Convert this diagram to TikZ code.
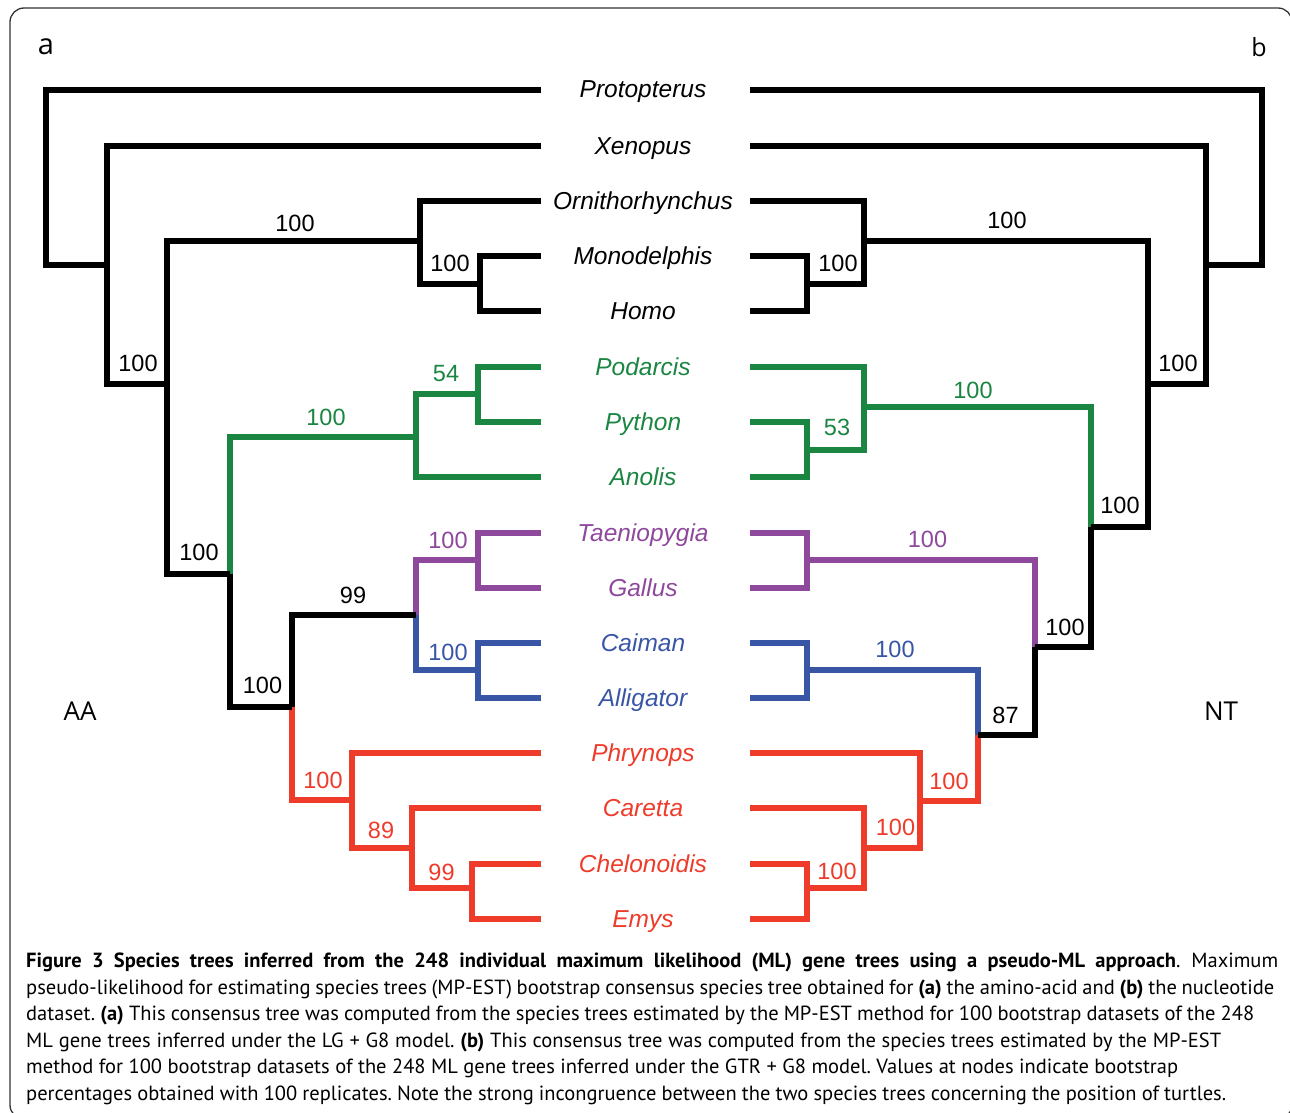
\documentclass[tikz,border=0pt]{standalone}
\usepackage{fontspec}
\setmainfont{Liberation Sans}
\newfontfamily\capfont{PT Sans}
\newfontfamily\labfont{Open Sans}
\definecolor{tgreen}{HTML}{1B8542}
\definecolor{tpurple}{HTML}{8E489C}
\definecolor{tblue}{HTML}{3956A6}
\definecolor{tred}{HTML}{EE3B2A}
\frenchspacing
\begin{document}
\begin{tikzpicture}[x=1pt,y=-1pt,
  br/.style={line width=5.2pt,line join=miter},
  sp/.style={anchor=base,inner sep=0pt,font=\fontsize{24.5}{27}\selectfont\itshape},
  bs/.style={anchor=base,inner sep=0pt,font=\fontsize{23.5}{26}\selectfont},
  capline/.style={anchor=base west,inner sep=0pt,font=\capfont\fontsize{20.5}{26}\selectfont},
  pl/.style={inner sep=0pt,font=\labfont}]
\useasboundingbox (0,0) rectangle (1290,1113);
\draw[line width=1.3pt,black!80,rounded corners=14pt] (10,8) rectangle (1292,1119);

% panel labels
\node[pl,font=\labfont\fontsize{29}{32}\selectfont] (la) at (46,47) {a};
\node[pl,font=\labfont\fontsize{25}{28}\selectfont] (lb) at (1259,47) {b};
\node[pl,font=\labfont\fontsize{26}{30}\selectfont] (laa) at (80,711) {AA};
\node[pl,font=\labfont\fontsize{26}{30}\selectfont] (lnt) at (1221,711) {NT};

% species names
\node[sp] (nP)  at (643,98)  {Protopterus};
\node[sp] (nX)  at (643,154) {Xenopus};
\node[sp] (nO)  at (643,209) {Ornithorhynchus};
\node[sp] (nM)  at (643,264) {Monodelphis};
\node[sp] (nH)  at (643,319) {Homo};
\node[sp,tgreen] (nPo) at (643,375) {Podarcis};
\node[sp,tgreen] (nPy) at (643,430) {Python};
\node[sp,tgreen] (nA)  at (643,485) {Anolis};
\node[sp,tpurple] (nT) at (643,541) {Taeniopygia};
\node[sp,tpurple] (nG) at (643,596) {Gallus};
\node[sp,tblue] (nCa)  at (643,651) {Caiman};
\node[sp,tblue] (nAl)  at (643,706) {Alligator};
\node[sp,tred] (nPh)   at (643,761) {Phrynops};
\node[sp,tred] (nCr)   at (643,816) {Caretta};
\node[sp,tred] (nCh)   at (643,872) {Chelonoidis};
\node[sp,tred] (nE)    at (643,927) {Emys};

% ---------- left tree (a) ----------
\coordinate (lP) at (541,90);  \coordinate (lX) at (541,146);
\coordinate (lO) at (541,201); \coordinate (lM) at (541,256);
\coordinate (lH) at (541,311); \coordinate (lPo) at (541,367);
\coordinate (lPy) at (541,422); \coordinate (lA) at (541,477);
\coordinate (lT) at (541,533); \coordinate (lG) at (541,588);
\coordinate (lCa) at (541,643); \coordinate (lAl) at (541,698);
\coordinate (lPh) at (541,753); \coordinate (lCr) at (541,808);
\coordinate (lCh) at (541,864); \coordinate (lE) at (541,919);

\coordinate (MH) at (480,284);  \coordinate (Mam) at (420,241);
\coordinate (PP) at (478,394);  \coordinate (Sq) at (416,437);
\coordinate (TG) at (478,560);  \coordinate (CA) at (478,670);
\coordinate (Arch) at (416,615);
\coordinate (CE) at (472,888);  \coordinate (CCE) at (412,848);
\coordinate (Tur) at (352,800); \coordinate (ArchTur) at (292,707);
\coordinate (Sau) at (230,574); \coordinate (Amn) at (167,384);
\coordinate (Tet) at (107,265); \coordinate (Root) at (46,265);

\draw[br] (lM) -| (MH) |- (lH);
\draw[br] (lO) -| (Mam) |- (MH);
\draw[br,tgreen] (lPo) -| (PP) |- (lPy);
\draw[br,tgreen] (PP) -| (Sq) |- (lA);
\draw[br,tpurple] (lT) -| (TG) |- (lG);
\draw[br,tblue] (lCa) -| (CA) |- (lAl);
\draw[br,tpurple] (TG) -| (Arch);
\draw[br,tblue] (Arch) |- (CA);
\draw[br,tred] (lCh) -| (CE) |- (lE);
\draw[br,tred] (lCr) -| (CCE) |- (CE);
\draw[br,tred] (lPh) -| (Tur) |- (CCE);
\draw[br] (Arch) -| (ArchTur);
\draw[br,tred] (ArchTur) |- (Tur);
\draw[br,tgreen] (Sq) -| (Sau);
\draw[br] (Sau) |- (ArchTur);
\draw[br] (Mam) -| (Amn) |- (Sau);
\draw[br] (lX) -| (Tet) |- (Amn);
\draw[br] (lP) -| (Root) |- (Tet);

\node[bs] (sMam) at (295,231.5) {100};
\node[bs] (sMH) at (450,271.5) {100};
\node[bs] (sAmn) at (138,371.5) {100};
\node[bs] (sSau) at (199,560.5) {100};
\node[bs,tgreen] (sSq) at (326,425.5) {100};
\node[bs,tgreen] (sPP) at (446,381.5) {54};
\node[bs] (sArchTur) at (262.5,693.5) {100};
\node[bs] (sArch) at (353,603.5) {99};
\node[bs,tpurple] (sTG) at (448,548.5) {100};
\node[bs,tblue] (sCA) at (448,660.5) {100};
\node[bs,tred] (sTur) at (323,788) {100};
\node[bs,tred] (sCCE) at (381,838) {89};
\node[bs,tred] (sCE) at (441.5,880) {99};

% ---------- right tree (b) ----------
\coordinate (rP) at (750,90);  \coordinate (rX) at (750,146);
\coordinate (rO) at (750,201); \coordinate (rM) at (750,256);
\coordinate (rH) at (750,311); \coordinate (rPo) at (750,367);
\coordinate (rPy) at (750,422); \coordinate (rA) at (750,477);
\coordinate (rT) at (750,533); \coordinate (rG) at (750,588);
\coordinate (rCa) at (750,643); \coordinate (rAl) at (750,698);
\coordinate (rPh) at (750,753); \coordinate (rCr) at (750,808);
\coordinate (rCh) at (750,864); \coordinate (rE) at (750,919);

\coordinate (rMH) at (807,284);  \coordinate (rMam) at (864,241);
\coordinate (rPA) at (807,450);  \coordinate (rSq) at (864,407);
\coordinate (rTG) at (807,560);  \coordinate (rCA) at (807,670);
\coordinate (rCE) at (807,888);  \coordinate (rCCE) at (864,848);
\coordinate (rTur) at (920,801); \coordinate (rCT) at (978,735);
\coordinate (rBCT) at (1035,647); \coordinate (rSB) at (1091,527);
\coordinate (rAmn) at (1148,384); \coordinate (rTet) at (1206,265);
\coordinate (rRoot) at (1262,265);

\draw[br] (rM) -| (rMH) |- (rH);
\draw[br] (rO) -| (rMam) |- (rMH);
\draw[br,tgreen] (rPy) -| (rPA) |- (rA);
\draw[br,tgreen] (rPo) -| (rSq) |- (rPA);
\draw[br,tpurple] (rT) -| (rTG) |- (rG);
\draw[br,tblue] (rCa) -| (rCA) |- (rAl);
\draw[br,tred] (rCh) -| (rCE) |- (rE);
\draw[br,tred] (rCr) -| (rCCE) |- (rCE);
\draw[br,tred] (rPh) -| (rTur) |- (rCCE);
\draw[br,tblue] (rCA) -| (rCT);
\draw[br,tred] (rCT) |- (rTur);
\draw[br,tpurple] (rTG) -| (rBCT);
\draw[br] (rBCT) |- (rCT);
\draw[br,tgreen] (rSq) -| (rSB);
\draw[br] (rSB) |- (rBCT);
\draw[br] (rMam) -| (rAmn) |- (rSB);
\draw[br] (rX) -| (rTet) |- (rAmn);
\draw[br] (rP) -| (rRoot) |- (rTet);

\node[bs] (srMam) at (1007,228.5) {100};
\node[bs] (srMH) at (838,271.5) {100};
\node[bs,tgreen] (srSq) at (973,398.5) {100};
\node[bs,tgreen] (srPA) at (837,435.5) {53};
\node[bs,tpurple] (srTG) at (927.5,547) {100};
\node[bs,tblue] (srCA) at (895,657) {100};
\node[bs] (srBCT) at (1065,635) {100};
\node[bs] (srCT) at (1005.5,723) {87};
\node[bs,tred] (srTur) at (949,789) {100};
\node[bs,tred] (srCCE) at (895.5,835) {100};
\node[bs,tred] (srCE) at (837,879) {100};
\node[bs] (srSB) at (1120,513.5) {100};
\node[bs] (srAmn) at (1178,371.5) {100};

% ---------- caption ----------
\node[capline] (c1) at (26,967) {\makebox[1252pt][s]{\textbf{Figure 3 Species trees inferred from the 248 individual maximum likelihood (ML) gene trees using a pseudo-ML approach}. Maximum}};
\node[capline] (c2) at (26,994) {\makebox[1248pt][s]{pseudo-likelihood for estimating species trees (MP-EST) bootstrap consensus species tree obtained for \textbf{(a)} the amino-acid and \textbf{(b)} the nucleotide}};
\node[capline] (c3) at (26,1020) {\makebox[1228pt][s]{dataset. \textbf{(a)} This consensus tree was computed from the species trees estimated by the MP-EST method for 100 bootstrap datasets of the 248}};
\node[capline] (c4) at (26,1047) {\makebox[1195pt][s]{ML gene trees inferred under the LG + G8 model. \textbf{(b)} This consensus tree was computed from the species trees estimated by the MP-EST}};
\node[capline] (c5) at (26,1073) {\makebox[1152pt][s]{method for 100 bootstrap datasets of the 248 ML gene trees inferred under the GTR + G8 model. Values at nodes indicate bootstrap}};
\node[capline] (c6) at (26,1100) {\makebox[1200pt][s]{percentages obtained with 100 replicates. Note the strong incongruence between the two species trees concerning the position of turtles.}};
\end{tikzpicture}
\end{document}
